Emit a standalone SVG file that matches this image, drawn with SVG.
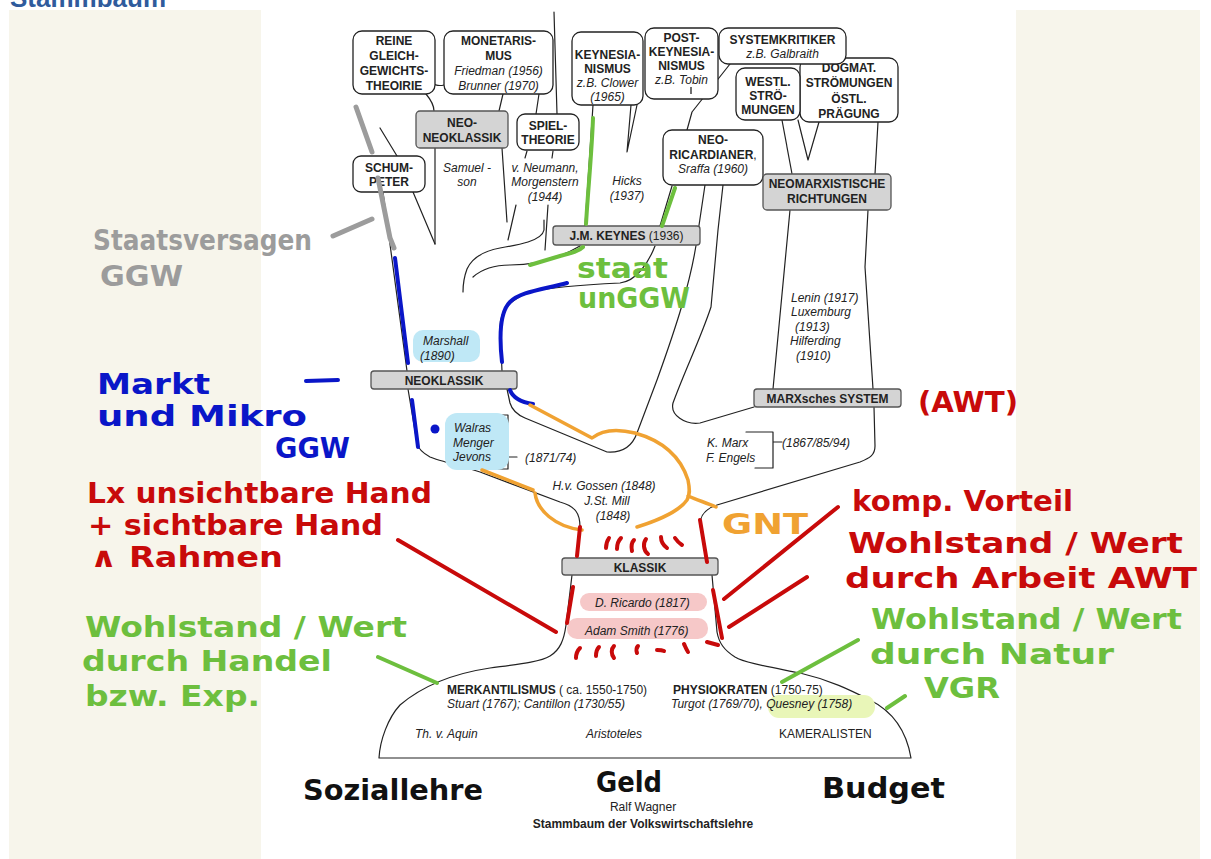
<svg xmlns="http://www.w3.org/2000/svg" width="1211" height="859" viewBox="0 0 1211 859">
<style>
.box{fill:#fff;stroke:#222;stroke-width:1.3}
.gbox{fill:#d4d4d4;stroke:#555;stroke-width:1.3}
.t{font-family:"Liberation Sans",Arial,sans-serif;font-size:12px;fill:#222}
.c{text-anchor:middle}
.b{font-weight:bold}
.i{font-style:italic}
.ln{fill:none;stroke:#222;stroke-width:1.2;stroke-linecap:round;stroke-linejoin:round}
.hw{font-family:"DejaVu Sans",sans-serif;font-weight:bold;font-size:28px}
.mk{fill:none;stroke-linecap:round;stroke-linejoin:round}
.red{stroke:#c80a0a;stroke-width:4}
.grn{stroke:#6dbf3e;stroke-width:4}
.blu{stroke:#0a16c8;stroke-width:4}
.gry{stroke:#9c9c9c;stroke-width:5}
.org{stroke:#f0a232;stroke-width:3.5}
</style>
<rect width="1211" height="859" fill="#fff"/>
<rect x="9" y="10" width="252" height="849" fill="#f7f5eb"/>
<rect x="1016" y="10" width="184" height="849" fill="#f7f5eb"/>
<text x="10" y="7" font-family="Liberation Sans,Arial,sans-serif" font-weight="bold" font-size="26" fill="#2f5b9c">Stammbaum</text>

<g id="connectors" class="ln">
<path d="M554,12 L557,114"/>
<path d="M425,79 C432,83 436,87 444,85"/>
<path d="M426,94 C431,100 434,105 434,111"/>
<path d="M503,94 L499,111"/>
<path d="M539,94 L536,114"/>
<path d="M435,148 L435,244"/>
<path d="M502,148 L507,222"/>
<path d="M527,151 L525,158 M553,151 L552,158"/>
<path d="M516,205 L508,240"/>
<path d="M548,205 L545,250"/>
<path d="M380,128 L397,156"/>
<path d="M413,192 L435,244"/>
<path d="M383,192 L407,371"/>
<path d="M544,220 L544,230 C542,241 518,245 500,248 C484,251 472,258 467,269 C464,277 463,285 463,292"/>
<path d="M580,246 C563,256 538,265 510,265 C494,265 482,269 473,277"/>
<path d="M502,371 L500,327 C500,310 510,300 530,292 C552,287 600,284 620,283 C636,281 648,264 655,246"/>
<path d="M631,105 L627,152 L637,105"/>
<path d="M593,105 L585,226"/>
<path d="M672,186 L660,226"/>
<path d="M730,64 L692,112 L687,130"/>
<path d="M705,185 L698,232 C692,280 675,330 657,380 L637,433 C632,447 622,453 607,452 L525,418 C518,415 512,410 510,403 L507,389"/>
<path d="M723,185 L718,230 L711,307 C700,340 685,370 673,403 C670,415 685,425 700,423 L754,407"/>
<path d="M782,120 L792,174"/>
<path d="M798,120 L808,160 L819,122"/>
<path d="M878,122 L875,174"/>
<path d="M790,210 L773,389"/>
<path d="M868,210 L865,267 L873,389"/>
<path d="M874,407 L875,446 C875,455 870,458 860,462 L717,505 C705,509 700,515 700,525 L706,558"/>
<path d="M577,558 L580,527 C580,513 575,506 560,502 L480,472 C460,466 437,460 430,457 C421,452 418,448 417,443 L408,389"/>
<path d="M572,575 L566,625 C564,640 560,650 550,656 C540,662 520,664 490,668 C450,674 420,688 400,705 C388,718 380,740 379,758 L911,758 C906,728 890,710 870,700 C850,690 830,680 800,673 C770,667 745,663 735,657 C724,650 719,643 717,632 L712,575"/>
<path d="M498,415 L508,415 L508,469 L498,469 M508,457 L517,457"/>
<path d="M746,432 L773,432 L773,468 L755,468 M773,442 L782,442"/>
</g>

<g id="n-dogmat"><rect class="box" x="800" y="58" width="98" height="64" rx="9"/>
<text class="t b c" x="849" y="71.5">DOGMAT.</text><text class="t b c" x="849" y="87">STRÖMUNGEN</text><text class="t b c" x="849" y="102.5">ÖSTL.</text><text class="t b c" x="849" y="118">PRÄGUNG</text></g>
<g id="n-reine"><rect class="box" x="353" y="31" width="82" height="63" rx="9"/>
<text class="t b c" x="394" y="45">REINE</text><text class="t b c" x="394" y="60">GLEICH-</text><text class="t b c" x="394" y="75">GEWICHTS-</text><text class="t b c" x="394" y="90">THEOIRIE</text></g>
<g id="n-monetarismus"><rect class="box" x="444" y="31" width="109" height="63" rx="9"/>
<text class="t b c" x="498.5" y="45">MONETARIS-</text><text class="t b c" x="498.5" y="60">MUS</text><text class="t i c" x="498.5" y="75">Friedman (1956)</text><text class="t i c" x="498.5" y="90">Brunner (1970)</text></g>
<g id="n-keynesianismus"><rect class="box" x="572" y="32" width="71" height="73" rx="9"/>
<text class="t b c" x="607.5" y="58.5">KEYNESIA-</text><text class="t b c" x="607.5" y="72.5">NISMUS</text><text class="t i c" x="607.5" y="86.5">z.B. Clower</text><text class="t i c" x="607.5" y="100.5">(1965)</text></g>
<g id="n-postkeynesianismus"><rect class="box" x="645" y="28" width="73" height="71" rx="9"/>
<text class="t b c" x="681.5" y="41.5">POST-</text><text class="t b c" x="681.5" y="55.5">KEYNESIA-</text><text class="t b c" x="681.5" y="69.5">NISMUS</text><text class="t i c" x="681.5" y="83.5">z.B. Tobin</text>
<line x1="691" y1="87" x2="691" y2="94" stroke="#222" stroke-width="1.3"/></g>
<g id="n-systemkritiker"><rect class="box" x="719" y="28" width="127" height="36" rx="9"/>
<text class="t b c" x="782.5" y="43.5">SYSTEMKRITIKER</text><text class="t i c" x="782.5" y="57.5">z.B. Galbraith</text></g>
<g id="n-westl"><rect class="box" x="736" y="68" width="64" height="52" rx="9"/>
<text class="t b c" x="768" y="85.5">WESTL.</text><text class="t b c" x="768" y="99.5">STRÖ-</text><text class="t b c" x="768" y="113.5">MUNGEN</text></g>
<g id="n-neoneoklassik"><rect class="gbox" x="416" y="111" width="92" height="37" rx="4"/>
<text class="t b c" x="462" y="126.5">NEO-</text><text class="t b c" x="462" y="141.5">NEOKLASSIK</text></g>
<g id="n-spieltheorie"><rect class="box" x="517" y="114" width="62" height="36" rx="8"/>
<text class="t b c" x="548" y="129.5">SPIEL-</text><text class="t b c" x="548" y="144">THEORIE</text></g>
<g id="n-schumpeter"><rect class="box" x="353" y="156" width="72" height="36" rx="8"/>
<text class="t b c" x="389" y="171.5">SCHUM-</text><text class="t b c" x="389" y="185.5">PETER</text></g>
<g id="n-neoricardianer"><rect class="box" x="663" y="130" width="100" height="55" rx="9"/>
<text class="t b c" x="713" y="144">NEO-</text><text class="t c" x="713" y="158.5"><tspan class="b">RICARDIANER</tspan>,</text><text class="t i c" x="713" y="173">Sraffa (1960)</text></g>
<g id="n-neomarx"><rect class="gbox" x="763" y="174" width="128" height="36" rx="4"/>
<text class="t b c" x="827" y="187.5">NEOMARXISTISCHE</text><text class="t b c" x="827" y="202.5">RICHTUNGEN</text></g>
<g id="n-keynes"><rect class="gbox" x="553" y="226" width="147" height="19" rx="3"/>
<text class="t c" x="626.5" y="240"><tspan class="b">J.M. KEYNES</tspan> (1936)</text></g>
<g id="n-neoklassik"><rect class="gbox" x="371" y="371" width="146" height="18" rx="3"/>
<text class="t b c" x="444" y="384.5">NEOKLASSIK</text></g>
<g id="n-marx"><rect class="gbox" x="754" y="389" width="147" height="18" rx="3"/>
<text class="t b c" x="827.5" y="402.5">MARXsches SYSTEM</text></g>
<g id="n-klassik"><rect class="gbox" x="562" y="558" width="156" height="17" rx="3"/>
<text class="t b c" x="640" y="571.5">KLASSIK</text></g>

<g id="highlights">
<rect x="413" y="330" width="67" height="32" rx="10" fill="#bfe8f6"/>
<rect x="445" y="413" width="64" height="57" rx="12" fill="#bfe8f6"/>
<rect x="580" y="593" width="127" height="18" rx="9" fill="#f6c8c8"/>
<rect x="567" y="618" width="141" height="21" rx="10" fill="#f6c8c8"/>
<rect x="768" y="695" width="107" height="23" rx="11" fill="#e9f6b8"/>
</g>

<g id="labels">
<text class="t i c" x="467" y="171.5">Samuel -</text><text class="t i c" x="467" y="185.5">son</text>
<text class="t i c" x="545" y="171.5">v. Neumann,</text><text class="t i c" x="545" y="185.5">Morgenstern</text><text class="t i c" x="545" y="200.5">(1944)</text>
<text class="t i c" x="627" y="185">Hicks</text><text class="t i c" x="627" y="200">(1937)</text>
<text class="t i" x="791" y="301.5">Lenin (1917)</text><text class="t i" x="791" y="315.5">Luxemburg</text><text class="t i" x="795" y="330.5">(1913)</text><text class="t i" x="790" y="344.5">Hilferding</text><text class="t i" x="796" y="359.5">(1910)</text>
<text class="t i" x="423" y="344.5">Marshall</text><text class="t i" x="420" y="359.5">(1890)</text>
<text class="t i" x="454" y="431.5">Walras</text><text class="t i" x="453" y="446.5">Menger</text><text class="t i" x="453" y="461">Jevons</text>
<text class="t i" x="525" y="461.5">(1871/74)</text>
<text class="t i" x="707" y="446.5">K. Marx</text><text class="t i" x="706" y="461.5">F. Engels</text>
<text class="t i" x="782" y="446.5">(1867/85/94)</text>
<text class="t i c" x="604" y="490">H.v. Gossen (1848)</text><text class="t i c" x="607" y="504.5">J.St. Mill</text><text class="t i c" x="613" y="519.5">(1848)</text>
<text class="t i" x="595" y="606.5">D. Ricardo (1817)</text>
<text class="t i" x="585" y="634.5">Adam Smith (1776)</text>
<text class="t" x="447" y="694"><tspan class="b">MERKANTILISMUS</tspan> ( ca. 1550-1750)</text>
<text class="t i" x="447" y="708">Stuart (1767); Cantillon (1730/55)</text>
<text class="t" x="673" y="694"><tspan class="b">PHYSIOKRATEN</tspan> (1750-75)</text>
<text class="t i" x="671" y="708">Turgot (1769/70),  Quesney (1758)</text>
<text class="t i" x="415" y="738">Th. v. Aquin</text>
<text class="t i" x="586" y="738">Aristoteles</text>
<text class="t" x="779" y="738">KAMERALISTEN</text>
<text class="t c" x="643" y="811" font-size="11.5">Ralf Wagner</text>
<text class="t b c" x="643" y="828" font-size="15">Stammbaum der Volkswirtschaftslehre</text>
</g>

<g id="annotation-strokes">
<path class="mk gry" d="M356,107 L372,152 M378,178 L390,238 L394,248 M333,236 L372,219"/>
<path class="mk blu" d="M395,258 L408,363 M412,400 L418,447 M502,362 C499,335 500,312 510,302 C520,292 540,290 567,283 M510,390 C513,398 520,402 533,404 M306,381 L338,380"/>
<circle cx="435" cy="429" r="4.5" fill="#0a16c8"/>
<path class="mk grn" d="M593,118 C592,150 588,190 586,224 M583,247 C579,251 572,253 560,256 L530,265 M675,188 L662,226 M378,657 L437,683 M782,682 L858,640 M887,708 L905,696"/>
<path class="mk org" d="M530,405 L592,438 C602,430 615,428 635,433 C660,440 680,455 688,480 C690,490 690,495 687,500 C680,510 660,520 637,527 M688,496 C697,500 707,503 716,507 M482,470 L533,490 M535,493 C537,510 555,527 582,530"/>
<path class="mk red" d="M398,540 L556,632 M724,599 L838,507 M729,627 L807,577 M580,527 L577,556 M573,587 L567,623 M700,520 L707,562 M713,590 L722,638 M707,642 L718,645"/>
<path class="mk red" stroke-width="3" d="M606,548 C606,544 607,541 609,538 M617,549 C617,544 618,541 621,538 M632,551 C631,546 632,542 634,540 M648,554 C643,550 643,543 646,539 M667,548 C663,545 661,541 661,537 M682,545 C679,543 677,541 675,538 M576,658 C576,653 578,650 580,648 M596,656 C596,652 597,649 599,647 M614,658 C611,654 611,649 614,646 M637,653 C636,650 636,648 638,646 M657,650 C660,650 662,650 664,651 M688,652 C686,649 685,646 684,644"/>
</g>

<g id="annotation-texts">
<text class="hw" fill="#9c9c9c" x="93" y="250" textLength="219" lengthAdjust="spacingAndGlyphs">Staatsversagen</text>
<text class="hw" fill="#9c9c9c" x="100" y="286" textLength="83" lengthAdjust="spacingAndGlyphs">GGW</text>
<text class="hw" fill="#0a16c8" x="97" y="394" font-size="26" textLength="113" lengthAdjust="spacingAndGlyphs">Markt</text>
<text class="hw" fill="#0a16c8" x="97" y="426" font-size="26" textLength="210" lengthAdjust="spacingAndGlyphs">und Mikro</text>
<text class="hw" fill="#0a16c8" x="275" y="458" textLength="75" lengthAdjust="spacingAndGlyphs">GGW</text>
<text class="hw" fill="#c80a0a" x="87" y="503" textLength="345" lengthAdjust="spacingAndGlyphs">Lx unsichtbare Hand</text>
<text class="hw" fill="#c80a0a" x="88" y="535" textLength="295" lengthAdjust="spacingAndGlyphs">+ sichtbare Hand</text>
<text class="hw" fill="#c80a0a" x="90" y="567" textLength="193" lengthAdjust="spacingAndGlyphs">∧ Rahmen</text>
<text class="hw" fill="#6dbf3e" x="85" y="637" textLength="322" lengthAdjust="spacingAndGlyphs">Wohlstand / Wert</text>
<text class="hw" fill="#6dbf3e" x="82" y="671" textLength="250" lengthAdjust="spacingAndGlyphs">durch Handel</text>
<text class="hw" fill="#6dbf3e" x="85" y="706" textLength="175" lengthAdjust="spacingAndGlyphs">bzw. Exp.</text>
<text class="hw" fill="#6dbf3e" x="577" y="278" font-size="26" textLength="91" lengthAdjust="spacingAndGlyphs">staat</text>
<text class="hw" fill="#6dbf3e" x="578" y="308" font-size="26" textLength="112" lengthAdjust="spacingAndGlyphs">unGGW</text>
<text class="hw" fill="#f0a232" x="722" y="534" textLength="86" lengthAdjust="spacingAndGlyphs">GNT</text>
<text class="hw" fill="#c80a0a" x="918" y="412" textLength="100" lengthAdjust="spacingAndGlyphs">(AWT)</text>
<text class="hw" fill="#c80a0a" x="852" y="511" textLength="221" lengthAdjust="spacingAndGlyphs">komp. Vorteil</text>
<text class="hw" fill="#c80a0a" x="848" y="553" textLength="335" lengthAdjust="spacingAndGlyphs">Wohlstand / Wert</text>
<text class="hw" fill="#c80a0a" x="845" y="588" textLength="352" lengthAdjust="spacingAndGlyphs">durch Arbeit AWT</text>
<text class="hw" fill="#6dbf3e" x="871" y="629" textLength="311" lengthAdjust="spacingAndGlyphs">Wohlstand / Wert</text>
<text class="hw" fill="#6dbf3e" x="870" y="664" textLength="244" lengthAdjust="spacingAndGlyphs">durch Natur</text>
<text class="hw" fill="#6dbf3e" x="924" y="698" textLength="76" lengthAdjust="spacingAndGlyphs">VGR</text>
<text class="hw" fill="#111" x="303" y="800" textLength="180" lengthAdjust="spacingAndGlyphs">Soziallehre</text>
<text class="hw" fill="#111" x="596" y="792" font-size="26" textLength="66" lengthAdjust="spacingAndGlyphs">Geld</text>
<text class="hw" fill="#111" x="822" y="798" textLength="123" lengthAdjust="spacingAndGlyphs">Budget</text>
</g>
</svg>
